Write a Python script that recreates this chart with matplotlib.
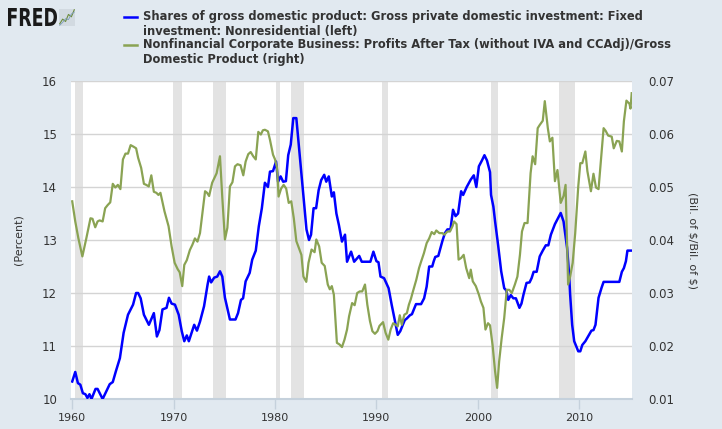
import matplotlib
matplotlib.use("Agg")
import matplotlib.pyplot as plt
from matplotlib.lines import Line2D
from matplotlib.textpath import TextPath
from matplotlib.patches import PathPatch
from matplotlib.font_manager import FontProperties
from matplotlib.transforms import Affine2D, IdentityTransform

# ---------------- data ----------------
inv_years = [1960.0, 1960.3, 1960.56, 1960.8, 1961.05, 1961.3, 1961.5, 1961.7, 1961.9, 1962.3,
             1962.5, 1963.0, 1963.7, 1964.0, 1964.3, 1964.7, 1965.07, 1965.5, 1966.0, 1966.3,
             1966.5, 1966.75, 1967.07, 1967.56, 1968.05, 1968.35, 1968.6, 1968.9, 1969.3, 1969.54,
             1969.8, 1970.13, 1970.5, 1970.8, 1971.05, 1971.3, 1971.5, 1972.03, 1972.3, 1972.6,
             1973.0, 1973.35, 1973.5, 1973.7, 1974.0, 1974.3, 1974.57, 1974.8, 1975.06, 1975.55,
             1976.1, 1976.35, 1976.64, 1976.85, 1977.1, 1977.5, 1977.75, 1978.1, 1978.4, 1978.7,
             1979.0, 1979.3, 1979.5, 1979.8, 1980.1, 1980.3, 1980.55, 1980.8, 1981.07, 1981.3,
             1981.55, 1981.8, 1982.1, 1982.45, 1982.8, 1983.1, 1983.35, 1983.55, 1983.8, 1984.05,
             1984.3, 1984.55, 1984.85, 1985.05, 1985.3, 1985.6, 1985.8, 1986.05, 1986.3, 1986.6,
             1986.9, 1987.1, 1987.5, 1987.8, 1988.3, 1988.55, 1989.4, 1989.7, 1990.0, 1990.2,
             1990.4, 1990.75, 1991.2, 1991.5, 1991.8, 1992.1, 1992.35, 1992.6, 1992.8, 1993.0,
             1993.3, 1993.5, 1993.9, 1994.4, 1994.7, 1994.95, 1995.2, 1995.5, 1995.65, 1995.8,
             1996.1, 1996.5, 1996.75, 1997.0, 1997.3, 1997.55, 1997.8, 1998.05, 1998.35, 1998.55,
             1998.9, 1999.3, 1999.6, 1999.85, 2000.1, 2000.4, 2000.65, 2000.9, 2001.2, 2001.3,
             2001.53, 2001.7, 2002.0, 2002.3, 2002.6, 2002.8, 2003.0, 2003.25, 2003.5, 2003.75,
             2004.1, 2004.3, 2004.5, 2004.8, 2005.1, 2005.3, 2005.5, 2005.8, 2006.1, 2006.4,
             2006.7, 2006.95, 2007.2, 2007.6, 2008.17, 2008.45, 2008.8, 2009.0, 2009.1, 2009.3,
             2009.5, 2009.9, 2010.1, 2010.3, 2010.6, 2011.2, 2011.4, 2011.6, 2011.9, 2012.2,
             2012.4, 2013.95, 2014.2, 2014.4, 2014.6, 2014.75, 2015.1]
inv_values = [10.33, 10.51, 10.30, 10.27, 10.11, 10.09, 10.02, 10.09, 10.00, 10.19,
              10.19, 10.00, 10.28, 10.32, 10.52, 10.77, 11.25, 11.59, 11.78, 12.00,
              12.00, 11.90, 11.59, 11.40, 11.62, 11.18, 11.30, 11.69, 11.72, 11.91,
              11.80, 11.78, 11.59, 11.28, 11.09, 11.20, 11.09, 11.40, 11.29, 11.46,
              11.75, 12.16, 12.31, 12.20, 12.29, 12.31, 12.41, 12.31, 11.91, 11.50,
              11.50, 11.62, 11.87, 11.90, 12.22, 12.38, 12.63, 12.80, 13.26, 13.60,
              14.08, 14.00, 14.29, 14.30, 14.48, 14.10, 14.20, 14.10, 14.11, 14.60,
              14.80, 15.30, 15.30, 14.57, 13.82, 13.20, 13.00, 13.10, 13.60, 13.60,
              13.94, 14.13, 14.23, 14.10, 14.20, 13.82, 13.90, 13.50, 13.28, 12.97,
              13.10, 12.59, 12.78, 12.59, 12.70, 12.59, 12.59, 12.78, 12.60, 12.58,
              12.31, 12.28, 12.09, 11.78, 11.49, 11.21, 11.28, 11.40, 11.49, 11.52,
              11.58, 11.60, 11.79, 11.79, 11.90, 12.12, 12.50, 12.50, 12.60, 12.68,
              12.70, 12.98, 13.13, 13.20, 13.20, 13.57, 13.45, 13.50, 13.92, 13.85,
              14.00, 14.14, 14.22, 14.00, 14.39, 14.50, 14.60, 14.50, 14.28, 13.85,
              13.63, 13.35, 12.90, 12.41, 12.09, 12.05, 11.87, 11.96, 11.90, 11.90,
              11.72, 11.80, 11.97, 12.19, 12.20, 12.28, 12.40, 12.40, 12.69, 12.80,
              12.90, 12.90, 13.10, 13.30, 13.51, 13.35, 12.85, 12.35, 11.97, 11.40,
              11.09, 10.90, 10.90, 11.02, 11.09, 11.29, 11.30, 11.40, 11.91, 12.10,
              12.21, 12.21, 12.40, 12.47, 12.60, 12.80, 12.80]

prof_years = [1960.0, 1960.3, 1960.6, 1961.0, 1961.4, 1961.8, 1962.0, 1962.27, 1962.5, 1962.7,
              1963.0, 1963.25, 1963.5, 1963.75, 1964.0, 1964.25, 1964.5, 1964.75, 1965.0, 1965.25,
              1965.5, 1965.76, 1966.05, 1966.3, 1966.5, 1966.8, 1967.07, 1967.3, 1967.55, 1967.8,
              1968.05, 1968.3, 1968.5, 1968.7, 1969.1, 1969.5, 1969.8, 1970.1, 1970.4, 1970.6,
              1970.85, 1971.05, 1971.3, 1971.6, 1971.85, 1972.1, 1972.35, 1972.6, 1972.8, 1973.1,
              1973.3, 1973.5, 1973.8, 1974.24, 1974.57, 1974.8, 1975.06, 1975.3, 1975.55, 1975.8,
              1976.05, 1976.3, 1976.6, 1976.87, 1977.1, 1977.36, 1977.6, 1977.85, 1978.1, 1978.35,
              1978.6, 1978.8, 1979.0, 1979.3, 1979.5, 1979.8, 1980.0, 1980.2, 1980.35, 1980.6,
              1980.85, 1981.1, 1981.35, 1981.6, 1981.85, 1982.1, 1982.35, 1982.6, 1982.8, 1983.08,
              1983.3, 1983.6, 1983.9, 1984.07, 1984.35, 1984.6, 1984.9, 1985.2, 1985.4, 1985.6,
              1985.8, 1986.1, 1986.35, 1986.6, 1986.85, 1987.1, 1987.3, 1987.6, 1987.85, 1988.1,
              1988.35, 1988.6, 1988.87, 1989.1, 1989.36, 1989.6, 1989.85, 1990.1, 1990.3, 1990.65,
              1990.9, 1991.17, 1991.4, 1991.65, 1991.9, 1992.1, 1992.3, 1992.5, 1992.75, 1993.0,
              1993.2, 1993.4, 1993.6, 1993.93, 1994.2, 1994.4, 1994.68, 1994.95, 1995.2, 1995.45,
              1995.7, 1995.9, 1996.2, 1996.5, 1996.7, 1997.0, 1997.25, 1997.5, 1997.65, 1997.9,
              1998.1, 1998.35, 1998.6, 1998.85, 1999.15, 1999.3, 1999.5, 1999.8, 2000.1, 2000.3,
              2000.55, 2000.75, 2001.0, 2001.2, 2001.45, 2001.7, 2001.9, 2002.1, 2002.35, 2002.6,
              2002.85, 2003.1, 2003.35, 2003.65, 2003.9, 2004.15, 2004.35, 2004.6, 2004.9, 2005.2,
              2005.4, 2005.65, 2005.9, 2006.1, 2006.4, 2006.6, 2006.9, 2007.1, 2007.35, 2007.6,
              2007.85, 2008.17, 2008.45, 2008.65, 2008.9, 2009.1, 2009.35, 2009.6, 2009.9, 2010.1,
              2010.3, 2010.6, 2010.8, 2011.15, 2011.4, 2011.65, 2011.9, 2012.4, 2012.6, 2012.85,
              2013.2, 2013.4, 2013.7, 2013.95, 2014.2, 2014.4, 2014.65, 2014.95, 2015.05, 2015.17]
prof_values = [0.0473, 0.0435, 0.0404, 0.0369, 0.0404, 0.0441, 0.0440, 0.0424, 0.0435, 0.0437,
               0.0435, 0.0460, 0.0466, 0.0471, 0.0506, 0.0499, 0.0504, 0.0496, 0.0552, 0.0563,
               0.0563, 0.0579, 0.0576, 0.0573, 0.0555, 0.0536, 0.0506, 0.0504, 0.0501, 0.0522,
               0.0491, 0.0489, 0.0485, 0.0489, 0.0454, 0.0426, 0.0388, 0.0357, 0.0345, 0.0339,
               0.0313, 0.0353, 0.0362, 0.0381, 0.0391, 0.0403, 0.0397, 0.0413, 0.0445, 0.0492,
               0.0489, 0.0483, 0.0508, 0.0526, 0.0558, 0.0480, 0.0401, 0.0423, 0.0501, 0.0509,
               0.0539, 0.0543, 0.0541, 0.0522, 0.0548, 0.0562, 0.0566, 0.0558, 0.0552, 0.0604,
               0.0599, 0.0607, 0.0608, 0.0605, 0.0589, 0.0561, 0.0552, 0.0536, 0.0482, 0.0497,
               0.0504, 0.0497, 0.0470, 0.0473, 0.0441, 0.0398, 0.0385, 0.0372, 0.0331, 0.0321,
               0.0357, 0.0382, 0.0377, 0.0401, 0.0388, 0.0357, 0.0351, 0.0316, 0.0307, 0.0313,
               0.0297, 0.0206, 0.0203, 0.0198, 0.0212, 0.0231, 0.0256, 0.0281, 0.0277, 0.0300,
               0.0303, 0.0303, 0.0316, 0.0278, 0.0247, 0.0228, 0.0223, 0.0228, 0.0238, 0.0245,
               0.0225, 0.0212, 0.0231, 0.0243, 0.0240, 0.0237, 0.0258, 0.0240, 0.0259, 0.0262,
               0.0278, 0.0289, 0.0303, 0.0325, 0.0347, 0.0359, 0.0375, 0.0394, 0.0403, 0.0415,
               0.0411, 0.0418, 0.0413, 0.0413, 0.0410, 0.0416, 0.0416, 0.0426, 0.0435, 0.0430,
               0.0363, 0.0366, 0.0372, 0.0347, 0.0328, 0.0344, 0.0322, 0.0313, 0.0297, 0.0284,
               0.0272, 0.0231, 0.0243, 0.0239, 0.0202, 0.0152, 0.0121, 0.0171, 0.0215, 0.0253,
               0.0306, 0.0306, 0.0300, 0.0316, 0.0331, 0.0372, 0.0416, 0.0432, 0.0432, 0.0526,
               0.0558, 0.0543, 0.0611, 0.0617, 0.0625, 0.0662, 0.0611, 0.0586, 0.0593, 0.0511,
               0.0532, 0.0470, 0.0483, 0.0504, 0.0316, 0.0331, 0.0357, 0.0413, 0.0501, 0.0545,
               0.0545, 0.0567, 0.0530, 0.0492, 0.0525, 0.0499, 0.0496, 0.0611, 0.0606, 0.0597,
               0.0595, 0.0573, 0.0587, 0.0586, 0.0567, 0.0624, 0.0663, 0.0657, 0.0648, 0.0677]

recession_starts = [1960.3, 1969.95, 1973.9, 1980.1, 1981.6, 1990.57, 2001.3, 2008.05]
recession_ends = [1961.05, 1970.85, 1975.2, 1980.45, 1982.9, 1991.17, 2001.95, 2009.55]

x_ticks = [1960, 1970, 1980, 1990, 2000, 2010]
left_ticks = [10, 11, 12, 13, 14, 15, 16]
right_ticks = [0.01, 0.02, 0.03, 0.04, 0.05, 0.06, 0.07]

label_inv = "Shares of gross domestic product: Gross private domestic investment: Fixed\ninvestment: Nonresidential (left)"
label_prof = "Nonfinancial Corporate Business: Profits After Tax (without IVA and CCAdj)/Gross\nDomestic Product (right)"
left_unit = "(Percent)"
right_unit = r"(Bil. of \$/Bil. of \$)"
logo_text = "FRED"

# ---------------- styling ----------------
BG = "#E1E9F0"
BLUE = "#0000FF"
GREEN = "#8AA353"
TXT = "#333333"

W, H = 722, 429
fig = plt.figure(figsize=(W / 100, H / 100), dpi=100, facecolor=BG)

L, R, T, B = 71, 632, 81, 399
ax = fig.add_axes([L / W, 1 - B / H, (R - L) / W, (B - T) / H])
ax.set_facecolor("white")
ax2 = ax.twinx()

for s0, s1 in zip(recession_starts, recession_ends):
    ax.axvspan(s0, s1, color="#E3E3E3", lw=0, zorder=0)

ax.set_xlim(1959.88, 2015.2)
ax.set_ylim(10, 16)
ax2.set_ylim(0.01, 0.07)
ax.set_yticks(left_ticks)
ax2.set_yticks(right_ticks)
ax.grid(axis="y", color="#D4D4D4", lw=1.0, zorder=0.5)
ax.set_axisbelow(True)

ax2.plot(prof_years, prof_values, color=GREEN, lw=1.6, zorder=3)
ax.plot(inv_years, inv_values, color=BLUE, lw=1.8, zorder=4)

for a in (ax, ax2):
    for sp in a.spines.values():
        sp.set_visible(False)
ax.spines["bottom"].set_visible(True)
ax.spines["bottom"].set_color("#C5D1DC")
ax.spines["bottom"].set_linewidth(1.5)

ax.set_xticks(x_ticks)
ax.set_xticklabels([str(t) for t in x_ticks])
ax.tick_params(axis="x", length=7, color="#C5D1DC", width=1, labelcolor=TXT, labelsize=8, pad=3)
ax.tick_params(axis="y", length=0, labelsize=8.5, labelcolor=TXT, pad=10)
ax2.tick_params(axis="y", length=0, labelsize=8.5, labelcolor=TXT, pad=12)
ax.set_yticklabels([str(t) for t in left_ticks])
ax2.set_yticklabels([f"{t:.2f}" for t in right_ticks])

fig.text(19 / W, 1 - 240 / H, left_unit, rotation=90, ha="center", va="center",
         fontsize=8, color=TXT)
fig.text(693 / W, 1 - 240 / H, right_unit, rotation=270, ha="center", va="center",
         fontsize=8, color=TXT)

# header: logo (stretched text path to fit the narrow tall logo box) + legend
tp = TextPath((0, 0), logo_text, size=20,
              prop=FontProperties(family="DejaVu Sans Condensed", weight="bold"))
bb = tp.get_extents()
x0, x1, ytop, ybot = 8, 57, 8, 26
sx = (x1 - x0) / bb.width
sy = (ybot - ytop) / bb.height
tr = Affine2D().translate(-bb.x0, -bb.y0).scale(sx, sy).translate(x0, H - ybot) + IdentityTransform()
fig.add_artist(PathPatch(tp, transform=tr, facecolor="#1A1A1A", edgecolor="none"))

icon = fig.add_axes([59 / W, 1 - 26 / H, 16 / W, 17 / H])
icon.set_facecolor("#D2DAE1")
icon.plot([0, 1, 2, 3, 4, 5], [0.5, 1.5, 1.0, 2.5, 2.0, 3.5], color="#6C8C3C", lw=0.8)
icon.plot([0, 1, 2, 3, 4, 5], [0.2, 0.8, 1.6, 1.4, 2.6, 3.0], color="#7C9CBC", lw=0.6)
icon.set_xticks([]); icon.set_yticks([])
for sp in icon.spines.values():
    sp.set_visible(False)

fig.add_artist(Line2D([124 / W, 137 / W], [1 - 17 / H, 1 - 17 / H], color=BLUE, lw=1.8))
fig.add_artist(Line2D([124 / W, 137 / W], [1 - 45 / H, 1 - 45 / H], color=GREEN, lw=1.8))
fig.text(143 / W, 1 - 10 / H, label_inv, fontsize=8.3, fontweight="bold", color=TXT,
         ha="left", va="top", linespacing=1.25, family="DejaVu Sans Condensed")
fig.text(143 / W, 1 - 38 / H, label_prof, fontsize=8.3, fontweight="bold", color=TXT,
         ha="left", va="top", linespacing=1.25, family="DejaVu Sans Condensed")

fig.savefig("out.png", dpi=100, facecolor=BG)
